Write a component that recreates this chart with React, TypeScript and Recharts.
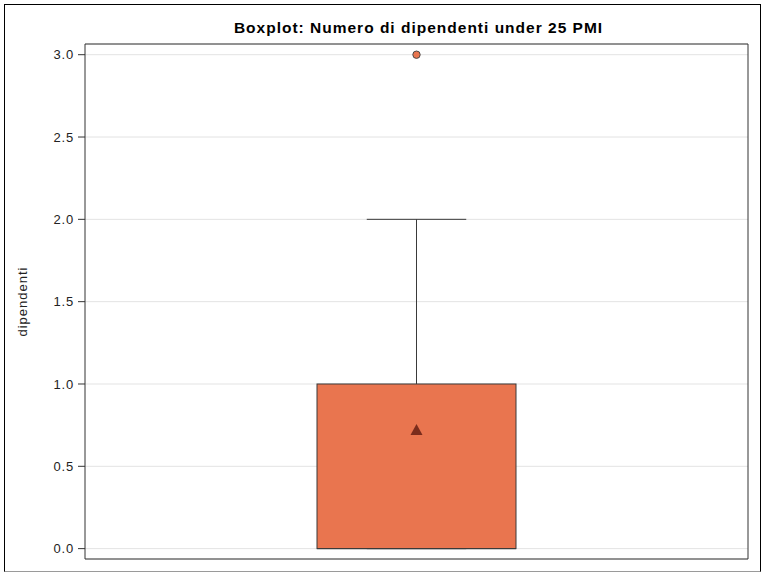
import React from 'react';
import {
  ComposedChart,
  Bar,
  Scatter,
  XAxis,
  YAxis,
  CartesianGrid,
  ReferenceArea,
} from 'recharts';

const categories = ['dipendenti'];
const whiskerLow = [0];
const quartile1 = [0];
const medians = [0];
const quartile3 = [1];
const whiskerHigh = [2];
const means = [0.72];
const outliers = [3];
const yTicks = [0, 0.5, 1, 1.5, 2, 2.5, 3];

const FONT = '"Liberation Sans", Arial, sans-serif';
const BOX_FILL = '#E9754F';
const EDGE = '#3a3a3a';
const Y_DOMAIN: [number, number] = [-0.063, 3.065];

const data = categories.map((name, i) => ({
  name,
  base: whiskerLow[i],
  lower: quartile1[i] - whiskerLow[i],
  box: quartile3[i] - quartile1[i],
  upper: whiskerHigh[i] - quartile3[i],
  medianFrac:
    quartile3[i] === quartile1[i] ? 1 : (quartile3[i] - medians[i]) / (quartile3[i] - quartile1[i]),
  mean: means[i],
  outlier: outliers[i],
}));

const LowerWhisker = (props: any) => {
  const { x, y, width, height } = props;
  const cx = x + width / 2;
  const bottom = y + height;
  return (
    <g>
      <line x1={cx} x2={cx} y1={y} y2={bottom} stroke={EDGE} strokeWidth={1} />
      <line x1={cx - width / 4} x2={cx + width / 4} y1={bottom} y2={bottom} stroke={EDGE} strokeWidth={1} />
    </g>
  );
};

const UpperWhisker = (props: any) => {
  const { x, y, width, height } = props;
  const cx = x + width / 2;
  return (
    <g>
      <line x1={cx} x2={cx} y1={y + height} y2={y} stroke={EDGE} strokeWidth={1} />
      <line x1={cx - width / 4} x2={cx + width / 4} y1={y} y2={y} stroke={EDGE} strokeWidth={1} />
    </g>
  );
};

const BoxShape = (props: any) => {
  const { x, y, width, height, payload } = props;
  const my = y + height * payload.medianFrac;
  return (
    <g>
      <rect x={x} y={y} width={width} height={height} fill={BOX_FILL} stroke={EDGE} strokeWidth={1} />
      <line x1={x} x2={x + width} y1={my} y2={my} stroke={EDGE} strokeWidth={1} />
    </g>
  );
};

const MeanMarker = (props: any) => {
  const { cx, cy } = props;
  return <polygon points={`${cx},${cy - 6} ${cx - 6},${cy + 5} ${cx + 6},${cy + 5}`} fill="#7A2C1C" />;
};

const OutlierMarker = (props: any) => {
  const { cx, cy } = props;
  return <circle cx={cx} cy={cy} r={3.7} fill={BOX_FILL} stroke="#4a4a4a" strokeWidth={1} />;
};

export default function App() {
  return (
    <div style={{ position: 'absolute', left: 0, top: 0, width: 764, height: 572, background: '#fff' }}>
      <div
        style={{
          position: 'absolute',
          left: 4,
          top: 4,
          width: 757,
          height: 568,
          boxSizing: 'border-box',
          border: '1px solid #000',
          borderBottomColor: '#9a9a9a',
        }}
      />
      <div
        style={{
          position: 'absolute',
          left: 85,
          top: 20,
          width: 667,
          textAlign: 'center',
          fontFamily: FONT,
          fontWeight: 'bold',
          fontSize: 15.5,
          lineHeight: '16px',
          letterSpacing: 1,
          color: '#000',
        }}
      >
        Boxplot: Numero di dipendenti under 25 PMI
      </div>
      <div style={{ position: 'absolute', left: 0, top: 0 }}>
        <ComposedChart
          width={764}
          height={572}
          data={data}
          margin={{ top: 44, right: 16, bottom: 13, left: 0 }}
          barSize={199}
        >
          <CartesianGrid vertical={false} stroke="#e3e3e3" />
          <XAxis dataKey="name" type="category" hide />
          <YAxis
            type="number"
            width={85}
            domain={Y_DOMAIN}
            allowDataOverflow
            ticks={yTicks}
            interval={0}
            tickFormatter={(v: number) => v.toFixed(1)}
            tickSize={7}
            tickMargin={4}
            axisLine={false}
            tickLine={{ stroke: '#333' }}
            tick={{ fontSize: 13, fill: '#222', fontFamily: FONT, letterSpacing: 0.8 }}
            label={{
              content: ({ viewBox }: any) => {
                const cy = viewBox.y + viewBox.height / 2;
                const lx = 27;
                return (
                  <text
                    x={lx}
                    y={cy}
                    transform={`rotate(-90 ${lx} ${cy})`}
                    textAnchor="middle"
                    fontSize={13}
                    fontFamily={FONT}
                    letterSpacing={1}
                    fill="#222"
                  >
                    dipendenti
                  </text>
                );
              },
            }}
          />
          <ReferenceArea y1={Y_DOMAIN[0]} y2={Y_DOMAIN[1]} fill="none" stroke="#333" strokeWidth={1} />
          <Bar dataKey="base" stackId="b" fill="none" fillOpacity={0} isAnimationActive={false} />
          <Bar dataKey="lower" stackId="b" shape={LowerWhisker} isAnimationActive={false} />
          <Bar dataKey="box" stackId="b" shape={BoxShape} isAnimationActive={false} />
          <Bar dataKey="upper" stackId="b" shape={UpperWhisker} isAnimationActive={false} />
          <Scatter dataKey="mean" shape={MeanMarker} isAnimationActive={false} />
          <Scatter dataKey="outlier" shape={OutlierMarker} isAnimationActive={false} />
        </ComposedChart>
      </div>
    </div>
  );
}
